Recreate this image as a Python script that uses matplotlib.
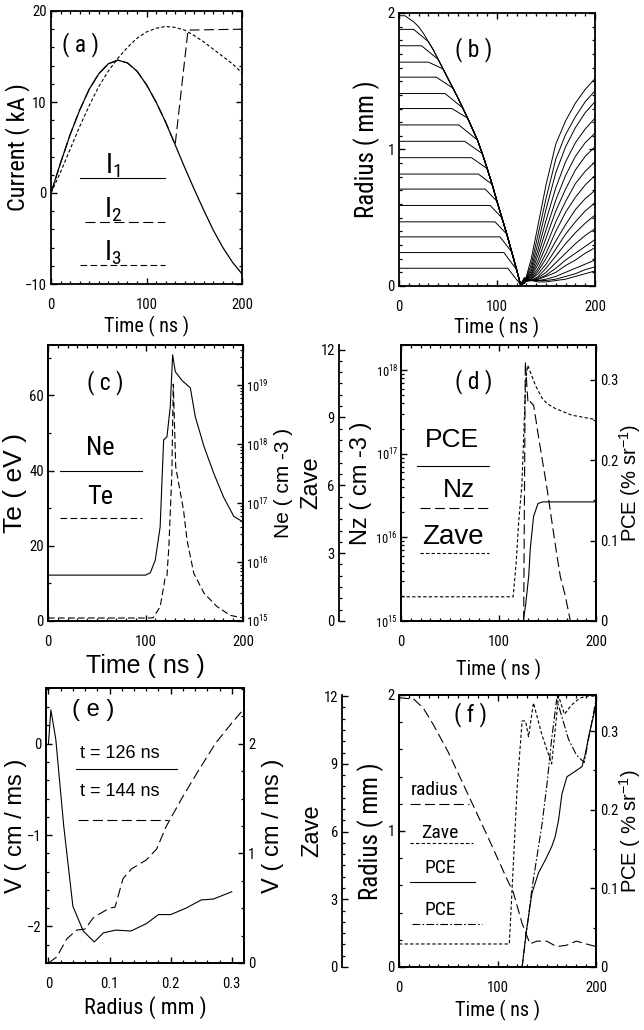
import matplotlib
matplotlib.use('Agg')
import matplotlib.pyplot as plt
from matplotlib.lines import Line2D
from matplotlib.ticker import MultipleLocator, LogLocator, NullFormatter, FuncFormatter

# ---- panel (a): currents, kA
a_t = [0, 10, 20, 30, 40, 50, 60, 70, 80, 90, 100, 110, 120, 130, 140, 150, 160, 170, 180, 190, 200]
a_i1 = [0, 3.3, 6.4, 9.1, 11.4, 13.1, 14.2, 14.6, 14.3, 13.4, 11.9, 10.0, 7.8, 5.3, 2.8, 0.4, -1.9, -4.1, -6.0, -7.6, -8.9]
a_i3 = [0, 2.3, 4.8, 7.3, 9.6, 11.7, 13.4, 14.8, 16.0, 17.0, 17.7, 18.1, 18.3, 18.2, 17.9, 17.3, 16.6, 15.8, 15.0, 14.2, 13.2]
a_t_i2 = [0, 10, 20, 30, 40, 50, 60, 70, 80, 90, 100, 110, 120, 130, 143.5, 200]
a_i2 = [0, 3.3, 6.4, 9.1, 11.4, 13.1, 14.2, 14.6, 14.3, 13.4, 11.9, 10.0, 7.8, 5.3, 17.9, 18.0]

# ---- panel (b): shell radii, mm
b_r0 = [0.13, 0.245, 0.36, 0.47, 0.59, 0.71, 0.82, 0.94, 1.06, 1.18, 1.30, 1.41, 1.53, 1.64, 1.76, 1.88, 1.98]
b_tdep = [111, 107, 103, 98, 93, 88, 81, 74, 67, 61, 54, 47, 38, 30, 23, 15, 6]
b_env_t = [0, 5, 10, 15, 20, 25, 30, 35, 40, 45, 50, 55, 60, 65, 70, 75, 80, 85, 90, 95, 100, 105, 110, 115, 120, 124]
b_env_r = [1.98, 1.975, 1.96, 1.935, 1.90, 1.85, 1.79, 1.73, 1.66, 1.59, 1.52, 1.45, 1.38, 1.305, 1.23, 1.15,
           1.07, 0.97, 0.86, 0.745, 0.62, 0.50, 0.38, 0.25, 0.12, 0.01]
b_reb_t = [128, 135, 142, 150, 160, 170, 180, 190, 200]
b_reb_r = [
    [0.06, 0.04, 0.03, 0.03, 0.04, 0.05, 0.07, 0.09, 0.11],
    [0.06, 0.04, 0.04, 0.04, 0.05, 0.07, 0.09, 0.12, 0.14],
    [0.05, 0.04, 0.04, 0.05, 0.07, 0.10, 0.13, 0.16, 0.19],
    [0.05, 0.04, 0.05, 0.07, 0.10, 0.15, 0.19, 0.24, 0.28],
    [0.04, 0.04, 0.05, 0.08, 0.13, 0.19, 0.24, 0.29, 0.34],
    [0.04, 0.04, 0.06, 0.10, 0.17, 0.24, 0.31, 0.37, 0.42],
    [0.03, 0.04, 0.07, 0.13, 0.22, 0.31, 0.39, 0.46, 0.52],
    [0.03, 0.05, 0.09, 0.16, 0.27, 0.38, 0.47, 0.55, 0.61],
    [0.03, 0.05, 0.11, 0.20, 0.33, 0.45, 0.56, 0.64, 0.70],
    [0.03, 0.06, 0.13, 0.24, 0.40, 0.54, 0.65, 0.74, 0.81],
    [0.03, 0.07, 0.16, 0.29, 0.47, 0.62, 0.75, 0.84, 0.91],
    [0.03, 0.08, 0.19, 0.35, 0.55, 0.71, 0.85, 0.95, 1.02],
    [0.03, 0.09, 0.23, 0.41, 0.63, 0.81, 0.95, 1.05, 1.12],
    [0.02, 0.11, 0.27, 0.48, 0.72, 0.91, 1.05, 1.15, 1.23],
    [0.02, 0.13, 0.32, 0.56, 0.83, 1.02, 1.16, 1.27, 1.35],
    [0.02, 0.16, 0.38, 0.64, 0.93, 1.11, 1.24, 1.35, 1.43],
    [0.02, 0.20, 0.45, 0.74, 1.04, 1.21, 1.34, 1.44, 1.52],
]

# ---- panel (c): Te (eV) and Ne (cm-3)
c_t_ne = [0, 100, 105, 110, 115, 118.6, 122, 125.4, 127.8, 130.6, 137.5, 146, 151, 160, 170, 180, 190.7, 200]
c_ne = [6.0e15, 6.0e15, 6.6e15, 1.08e16, 3.9e16, 1.18e18, 1.33e18, 4.3e18, 3.27e19, 1.69e19, 1.2e19, 9.0e18,
        2.94e18, 9.1e17, 3.2e17, 1.27e17, 5.9e16, 4.8e16]
c_t_te = [0, 105, 108, 115, 118.6, 120, 122, 124, 127, 128.5, 131, 134, 139, 142.6, 149.5, 160, 173.5, 187, 200]
c_te = [0.8, 0.8, 0.9, 3.8, 9.0, 11.4, 12.0, 20, 39, 63, 41, 36.6, 29.5, 21.5, 12.7, 7.4, 3.8, 1.5, 0.8]

# ---- panel (d): PCE, Nz, Zave
d_t_pce = [125.5, 128, 131, 132.6, 136, 140.5, 145, 200]
d_pce = [0, 0.022, 0.056, 0.09, 0.13, 0.146, 0.148, 0.148]
d_t_nz = [125.8, 127.5, 130.3, 132.6, 136, 138.5, 141.2, 144.6, 149.7, 154.9, 160, 163.4, 168.5, 173.7]
d_nz = [1.0e15, 1.26e18, 4.0e17, 4.2e17, 3.8e17, 2.5e17, 1.55e17, 8.9e16, 3.9e16, 1.5e16, 6.0e15, 3.4e15,
        2.0e15, 1.0e15]
d_t_zave = [0, 115, 118, 120.7, 124, 128, 130, 134, 138, 144.6, 150, 158, 175, 200]
d_zave = [1.07, 1.07, 2.5, 4.4, 6.0, 10.7, 11.3, 10.85, 10.4, 9.86, 9.6, 9.4, 9.1, 8.9]

# ---- panel (e): velocity profiles
e_r_126 = [0, 0.004, 0.012, 0.025, 0.04, 0.057, 0.075, 0.09, 0.11, 0.135, 0.16, 0.18, 0.2, 0.225, 0.25, 0.27, 0.3]
e_v_126 = [0.0, 0.37, 0.05, -0.9, -1.78, -2.05, -2.17, -2.07, -2.04, -2.05, -1.97, -1.87, -1.87, -1.80, -1.71,
           -1.70, -1.62]
e_r_144 = [0, 0.0136, 0.03, 0.046, 0.06, 0.073, 0.084, 0.1, 0.109, 0.122, 0.136, 0.16, 0.177, 0.193, 0.22, 0.247,
           0.274, 0.3, 0.32]
e_v_144 = [0, 0.055, 0.22, 0.30, 0.31, 0.41, 0.45, 0.5, 0.51, 0.77, 0.86, 0.94, 1.04, 1.25, 1.52, 1.77, 2.01,
           2.19, 2.32]

# ---- panel (f): radius, Zave, PCE
f_t_rad = [0, 15, 25, 35, 50, 70, 90, 110, 116, 125, 133, 140, 150, 160, 170, 180, 190, 200]
f_rad = [1.98, 1.97, 1.90, 1.78, 1.58, 1.27, 0.96, 0.64, 0.55, 0.32, 0.17, 0.19, 0.19, 0.15, 0.16, 0.19, 0.17, 0.15]
f_t_zave = [0, 112, 116, 120, 125, 128.5, 131.5, 136.5, 145, 155, 162, 168, 175, 183, 190, 200]
f_zave = [1.02, 1.02, 4.5, 8.0, 10.9, 10.9, 10.2, 11.7, 10.3, 9.0, 12.0, 11.2, 11.6, 11.9, 12.0, 12.0]
f_t_pce = [125, 129, 135, 141.7, 148.5, 155, 158.6, 162, 165.4, 170.5, 179, 185.8, 189, 192.5, 200]
f_pce = [0, 0.043, 0.094, 0.12, 0.136, 0.153, 0.166, 0.187, 0.22, 0.242, 0.249, 0.255, 0.27, 0.293, 0.333]
f_t_pce2 = [125, 130, 135, 140, 145, 150, 155, 160, 165, 172, 180, 188, 194, 200]
f_pce2 = [0, 0.05, 0.10, 0.14, 0.18, 0.23, 0.29, 0.34, 0.32, 0.29, 0.27, 0.26, 0.30, 0.34]

W, H = 644, 1030
NARROW = ['Liberation Sans Narrow', 'Roboto Condensed', 'DejaVu Sans Condensed', 'Liberation Sans', 'DejaVu Sans']
WIDE = ['Liberation Sans', 'DejaVu Sans']

plt.rcParams['font.family'] = NARROW
plt.rcParams['mathtext.default'] = 'regular'
plt.rcParams['axes.linewidth'] = 1.3
plt.rcParams['axes.labelsize'] = 14.5
plt.rcParams['lines.linewidth'] = 0.8
for ax_name in ('xtick', 'ytick'):
    plt.rcParams[f'{ax_name}.direction'] = 'in'
    plt.rcParams[f'{ax_name}.labelsize'] = 10.5
    plt.rcParams[f'{ax_name}.major.size'] = 4
    plt.rcParams[f'{ax_name}.minor.size'] = 2.2
    plt.rcParams[f'{ax_name}.major.width'] = 1
    plt.rcParams[f'{ax_name}.minor.width'] = 0.9
    plt.rcParams[f'{ax_name}.minor.visible'] = True
plt.rcParams['xtick.major.pad'] = 10
plt.rcParams['ytick.major.pad'] = 3
plt.rcParams['xtick.top'] = True
plt.rcParams['ytick.right'] = True

LONG = (0, (9, 4))
MED = (0, (6, 3))
SHORT = (0, (3, 2))
DASHDOT = (0, (7, 2, 1.5, 2))

# '0' instead of '0.0' on the decimal scales
plain = FuncFormatter(lambda v, pos: '0' if abs(v) < 1e-9 else f'{v:.1f}')


def box(l, t, r, b):
    return [l / W, 1 - b / H, (r - l) / W, (b - t) / H]


def key_line(x0, x1, y, ls='-'):
    fig.add_artist(Line2D([x0 / W, x1 / W], [1 - y / H, 1 - y / H], color='k', lw=0.8, linestyle=ls))


def key_text(x, y, s, size=16, family=NARROW):
    fig.text(x / W, 1 - y / H, s, ha='center', va='center', fontsize=size, family=family)


def place_labels(ax, l, t, r, b, xlab_y=None, ylab_x=None):
    # label centres given in figure pixels
    if xlab_y is not None:
        ax.xaxis.label.set_verticalalignment('center')
        ax.xaxis.set_label_coords(0.5, -(xlab_y - b) / (b - t))
    if ylab_x is not None:
        ax.yaxis.label.set_verticalalignment('center')
        ax.yaxis.set_label_coords((ylab_x - l) / (r - l), 0.5)


def zave_axis(ax, offset, top, size):
    axz = ax.twinx()
    for side in ('right', 'top', 'bottom'):
        axz.spines[side].set_visible(False)
    axz.spines['left'].set_visible(True)
    axz.spines['left'].set_position(('axes', offset))
    axz.yaxis.set_ticks_position('left')
    axz.yaxis.set_label_position('left')
    axz.set_ylim(0, top)
    axz.yaxis.set_major_locator(MultipleLocator(3))
    axz.yaxis.set_minor_locator(MultipleLocator(0.5))
    axz.set_ylabel('Zave', family=WIDE, fontsize=size)
    return axz


def log_axis(ax, lo, hi):
    ax.set_yscale('log')
    ax.set_ylim(lo, hi)
    ax.yaxis.set_major_locator(LogLocator(base=10))
    ax.yaxis.set_minor_locator(LogLocator(base=10, subs=range(2, 10)))
    ax.yaxis.set_minor_formatter(NullFormatter())
    ax.tick_params(axis='y', which='major', labelsize=9, pad=2)


fig = plt.figure(figsize=(W / 100, H / 100), dpi=100)

# (a)
A = (51, 11, 242, 284)
axa = fig.add_axes(box(*A))
axa.plot(a_t, a_i1, color='k', lw=0.9)
axa.plot(a_t_i2, a_i2, color='k', lw=0.8, linestyle=LONG)
axa.plot(a_t, a_i3, color='k', lw=0.8, linestyle=SHORT)
axa.set_xlim(0, 200)
axa.set_ylim(-10, 20)
axa.xaxis.set_major_locator(MultipleLocator(100))
axa.xaxis.set_minor_locator(MultipleLocator(10))
axa.yaxis.set_major_locator(MultipleLocator(10))
axa.yaxis.set_minor_locator(MultipleLocator(2))
axa.set_xlabel('Time ( ns )')
axa.set_ylabel('Current ( kA )', fontsize=17.5)
place_labels(axa, *A, xlab_y=326, ylab_x=18)
key_text(80, 45, '( a )', size=17)
key_text(113, 166, 'I$_1$', size=20)
key_line(80, 165, 178)
key_text(113, 210, 'I$_2$', size=20)
key_line(85, 165, 222, LONG)
key_text(113, 253, 'I$_3$', size=20)
key_line(80, 165, 265, MED)

# (b)
B = (399, 13, 595, 286)
axb = fig.add_axes(box(*B))
for k, r0 in enumerate(b_r0):
    ts = [0, b_tdep[k]]
    rs = [r0, r0]
    for t, r in zip(b_env_t, b_env_r):
        if t >= b_tdep[k] + 6 and r < r0 - 0.03:
            ts.append(t)
            rs.append(r)
    ts += b_reb_t
    rs += b_reb_r[k]
    axb.plot(ts, rs, color='k', lw=0.7)
axb.set_xlim(0, 200)
axb.set_ylim(0, 2)
axb.xaxis.set_major_locator(MultipleLocator(100))
axb.xaxis.set_minor_locator(MultipleLocator(10))
axb.yaxis.set_major_locator(MultipleLocator(1))
axb.yaxis.set_minor_locator(MultipleLocator(0.1))
axb.set_xlabel('Time ( ns )')
axb.set_ylabel('Radius ( mm )', fontsize=18)
place_labels(axb, *B, xlab_y=327, ylab_x=367)
key_text(474, 50, '( b )', size=17)

# (c)
C = (48, 345, 243, 621)
axc = fig.add_axes(box(*C))
axc.plot(c_t_te, c_te, color='k', lw=0.8, linestyle=MED)
axc.set_xlim(0, 200)
axc.set_ylim(0, 73.4)
axc.xaxis.set_major_locator(MultipleLocator(100))
axc.xaxis.set_minor_locator(MultipleLocator(10))
axc.yaxis.set_major_locator(MultipleLocator(20))
axc.yaxis.set_minor_locator(MultipleLocator(10))
axc.set_xlabel('Time ( ns )', family=WIDE, fontsize=18)
axc.set_ylabel('Te ( eV )', family=WIDE, fontsize=19)
place_labels(axc, *C, xlab_y=666, ylab_x=15)
axc2 = axc.twinx()
axc2.plot(c_t_ne, c_ne, color='k', lw=0.8)
log_axis(axc2, 1e15, 4.8e19)
axc2.set_ylabel('Ne ( cm -3 )', family=WIDE, fontsize=15)
place_labels(axc2, *C, ylab_x=284)
key_text(105, 383, '( c )', size=17)
key_text(100, 448, 'Ne', size=19)
key_line(60, 142, 471)
key_text(100, 497, 'Te', size=19)
key_line(60, 142, 518, MED)

# (d)
D = (401, 345, 596, 621)
axd = fig.add_axes(box(*D))
axd.plot(d_t_nz, d_nz, color='k', lw=0.8, linestyle=LONG)
axd.set_xlim(0, 200)
log_axis(axd, 1e15, 2e18)
axd.xaxis.set_major_locator(MultipleLocator(100))
axd.xaxis.set_minor_locator(MultipleLocator(10))
axd.set_xlabel('Time ( ns )')
axd.set_ylabel('Nz ( cm -3 )', family=WIDE, fontsize=17)
place_labels(axd, *D, xlab_y=669, ylab_x=361)
axd2 = axd.twinx()
axd2.plot(d_t_pce, d_pce, color='k', lw=0.8)
axd2.set_ylim(0, 0.343)
axd2.yaxis.set_major_locator(MultipleLocator(0.1))
axd2.yaxis.set_minor_locator(MultipleLocator(0.05))
axd2.yaxis.set_major_formatter(plain)
axd2.set_ylabel('PCE (% sr$^{-1}$)', family=WIDE, fontsize=14.5)
place_labels(axd2, *D, ylab_x=630)
axdz = zave_axis(axd, -0.318, 12.2, 17)
axdz.plot(d_t_zave, d_zave, color='k', lw=0.8, linestyle=SHORT)
place_labels(axdz, *D, ylab_x=311)
key_text(474, 382, '( d )', size=17)
key_text(452, 440, 'PCE', size=19, family=WIDE)
key_line(417, 489, 466)
key_text(459, 490, 'Nz', size=19, family=WIDE)
key_line(420, 489, 508, LONG)
key_text(453, 537, 'Zave', size=20, family=WIDE)
key_line(420, 489, 553, SHORT)

# (e)
E = (46, 688, 244, 963)
axe = fig.add_axes(box(*E))
axe.plot(e_r_126, e_v_126, color='k', lw=0.8)
axe.set_xlim(-0.004, 0.32)
axe.set_ylim(-2.40, 0.61)
axe.xaxis.set_major_locator(MultipleLocator(0.1))
axe.xaxis.set_minor_locator(MultipleLocator(0.02))
axe.xaxis.set_major_formatter(plain)
axe.yaxis.set_major_locator(MultipleLocator(1))
axe.yaxis.set_minor_locator(MultipleLocator(0.2))
axe.set_xlabel('Radius ( mm )', fontsize=16)
axe.set_ylabel('V ( cm / ms )', family=WIDE, fontsize=17)
place_labels(axe, *E, xlab_y=1008, ylab_x=16)
axe2 = axe.twinx()
axe2.plot(e_r_144, e_v_144, color='k', lw=0.8, linestyle=LONG)
axe2.set_ylim(0, 2.51)
axe2.yaxis.set_major_locator(MultipleLocator(1))
axe2.yaxis.set_minor_locator(MultipleLocator(0.25))
axe2.set_ylabel('V ( cm / ms )', family=WIDE, fontsize=17)
place_labels(axe2, *E, ylab_x=273)
key_text(93, 710, '( e )', size=17, family=WIDE)
key_text(120, 754, 't = 126 ns', size=13, family=WIDE)
key_line(76, 177, 769)
key_text(120, 792, 't = 144 ns', size=13, family=WIDE)
key_line(78, 168, 820, LONG)

# (f)
F = (399, 695, 596, 967)
axf = fig.add_axes(box(*F))
axf.plot(f_t_rad, f_rad, color='k', lw=0.8, linestyle=LONG)
axf.set_xlim(0, 200)
axf.set_ylim(0, 2.0)
axf.xaxis.set_major_locator(MultipleLocator(100))
axf.xaxis.set_minor_locator(MultipleLocator(10))
axf.yaxis.set_major_locator(MultipleLocator(1))
axf.yaxis.set_minor_locator(MultipleLocator(0.2))
axf.set_xlabel('Time ( ns )')
axf.set_ylabel('Radius ( mm )', fontsize=18)
place_labels(axf, *F, xlab_y=1010, ylab_x=371)
axf2 = axf.twinx()
axf2.plot(f_t_pce, f_pce, color='k', lw=0.8)
axf2.plot(f_t_pce2, f_pce2, color='k', lw=0.8, linestyle=DASHDOT)
axf2.set_ylim(0, 0.346)
axf2.yaxis.set_major_locator(MultipleLocator(0.1))
axf2.yaxis.set_minor_locator(MultipleLocator(0.05))
axf2.yaxis.set_major_formatter(plain)
axf2.set_ylabel('PCE ( % sr$^{-1}$)', family=WIDE, fontsize=14.5)
place_labels(axf2, *F, ylab_x=630)
axfz = zave_axis(axf, -0.289, 12.05, 17)
axfz.plot(f_t_zave, f_zave, color='k', lw=0.8, linestyle=SHORT)
place_labels(axfz, *F, ylab_x=312)
key_text(470, 715, '( f )', size=17)
key_text(435, 790, 'radius', size=14)
key_line(410, 469, 804, LONG)
key_text(440, 833, 'Zave', size=14)
key_line(410, 473, 843, SHORT)
key_text(440, 868, 'PCE', size=14)
key_line(410, 475, 882)
key_text(440, 910, 'PCE', size=14)
key_line(412, 482, 924, DASHDOT)

fig.savefig('out.png', dpi=100)
